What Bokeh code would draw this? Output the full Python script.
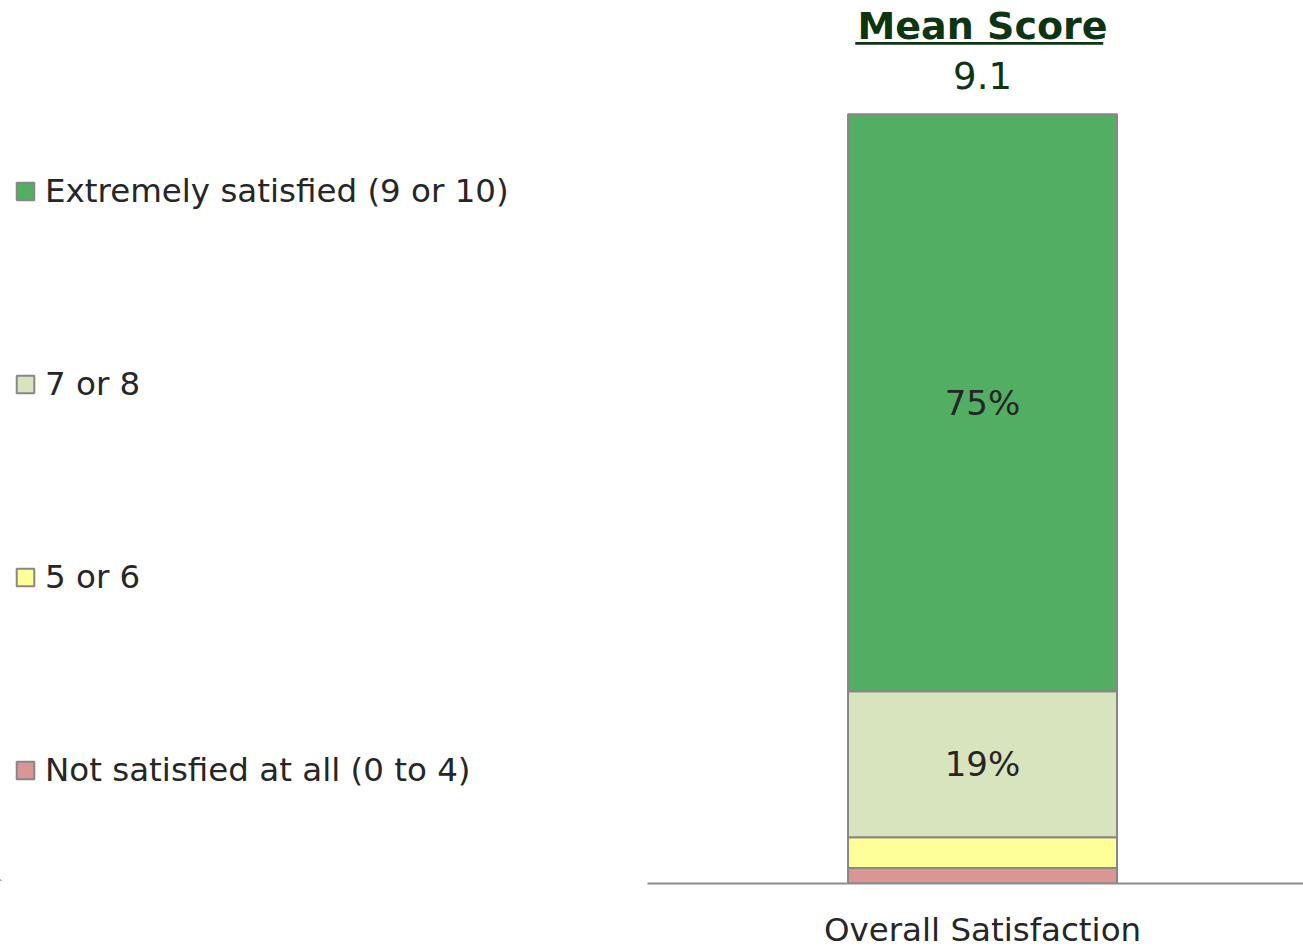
from bokeh.plotting import figure
from bokeh.layouts import row
from bokeh.models import Range1d, FixedTicker, Legend, LegendItem, Label, ColumnDataSource, BoxAnnotation
from bokeh.embed import file_html
from bokeh.resources import INLINE

categories = ["Overall Satisfaction"]
series = ["Not satisfied at all (0 to 4)", "5 or 6", "7 or 8", "Extremely satisfied (9 or 10)"]
not_satisfied = [2]
five_six = [4]
seven_eight = [19]
extremely = [75]
colors = ["#D99694", "#FFFF99", "#D7E4BD", "#52AE62"]
mean_score = 9.1

FONT = "DejaVu Sans"
TXT = "#262626"
EDGE = "#878787"

src = ColumnDataSource(dict(x=list(range(len(categories))), s0=not_satisfied, s1=five_six, s2=seven_eight, s3=extremely))
stacks = ["s0", "s1", "s2", "s3"]

# ---- chart panel ----
p = figure(frame_width=656, frame_height=883, output_backend="svg", toolbar_location=None,
           x_range=Range1d(-0.5107, 0.4893), y_range=Range1d(0, 114.8),
           min_border_left=0, min_border_right=0, min_border_top=0, min_border_bottom=0)
p.outline_line_color = None
p.xgrid.visible = False
p.ygrid.visible = False
p.yaxis.visible = False
p.background_fill_color = "white"
p.border_fill_color = "white"

rs = p.vbar_stack(stacks, x="x", width=0.41, source=src,
                  fill_color=colors, line_color=EDGE, line_width=2)

ax = p.xaxis[0]
ax.ticker = FixedTicker(ticks=list(range(len(categories))))
ax.major_label_overrides = {i: c for i, c in enumerate(categories)}
ax.axis_line_color = "#8c8c8c"
ax.axis_line_width = 2
ax.major_tick_line_color = None
ax.minor_tick_line_color = None
ax.major_label_text_font = FONT
ax.major_label_text_font_size = "32.5px"
ax.major_label_text_color = TXT
ax.major_label_standoff = 21

vals = [not_satisfied[0], five_six[0], seven_eight[0], extremely[0]]
base = 0
for v in vals:
    if v >= 10:
        p.add_layout(Label(x=0, y=base + v / 2, text=f"{v}%", text_align="center", text_baseline="middle",
                           text_font=FONT, text_font_size="34px", text_color=TXT))
    base += v

p.add_layout(Label(x=0, y=111.5, text="Mean Score", text_align="center", text_baseline="middle",
                   text_font=FONT, text_font_size="38px", text_font_style="bold", text_color="#0D3512"))
p.add_layout(BoxAnnotation(left=-0.194, right=0.184, bottom=109.05, top=109.4,
                           fill_color="#0D3512", fill_alpha=1, line_color=None))
p.add_layout(Label(x=0, y=105.0, text=f"{mean_score}", text_align="center", text_baseline="middle",
                   text_font=FONT, text_font_size="37px", text_color="#0D3512"))

# ---- legend panel (same data, ranges keep the bars out of view; only its legend shows) ----
lp = figure(width=647, height=948, output_backend="svg", toolbar_location=None,
            x_range=Range1d(5, 6), y_range=Range1d(500, 501),
            min_border_left=0, min_border_right=0, min_border_top=0, min_border_bottom=0)
lp.axis.visible = False
lp.grid.visible = False
lp.outline_line_color = None
lp.border_fill_color = "white"
lp.background_fill_color = "white"
swatches = lp.vbar_stack(stacks, x="x", width=0.41, source=src,
                         fill_color=colors, line_color=EDGE, line_width=2)

items = [LegendItem(label=series[i], renderers=[swatches[i]]) for i in reversed(range(len(series)))]
legend = Legend(items=items, location=(14, 91), orientation="vertical",
                padding=0, margin=0, spacing=155, glyph_width=22, glyph_height=22,
                label_text_font=FONT, label_text_font_size="32.5px", label_text_color=TXT,
                label_standoff=9, border_line_color=None, background_fill_alpha=0)
lp.add_layout(legend, "center")

layout = row(lp, p, spacing=0)
open("out.html", "w").write(file_html(layout, INLINE))
